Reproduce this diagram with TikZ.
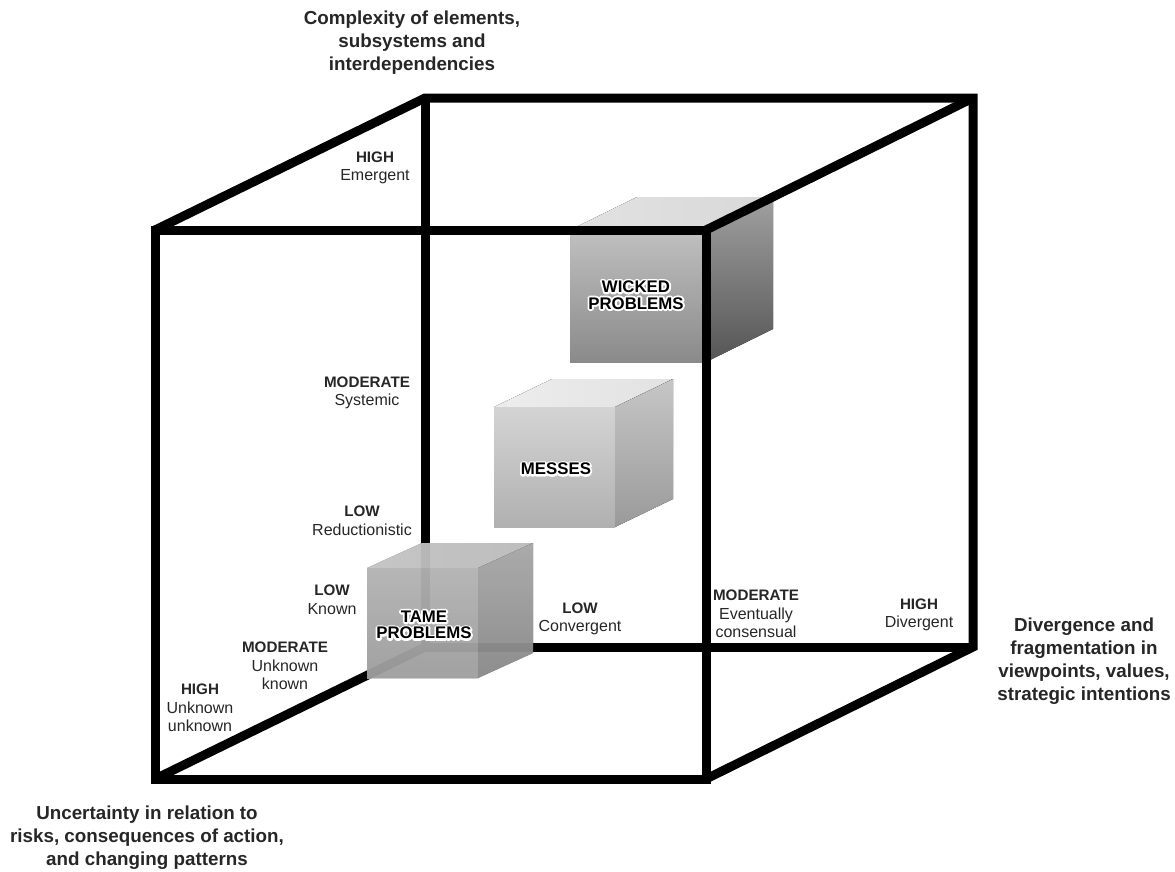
\documentclass[tikz,border=0pt]{standalone}
\usepackage{fontspec}
\setmainfont{Liberation Sans}
\newcommand\halo[1]{\leavevmode\rlap{\special{pdf:literal direct 1 Tr 3.8 w 1 j 1 1 1 RG}#1\special{pdf:literal direct 0 Tr 0 G}}#1}
\definecolor{wTop}{HTML}{E2E2E2}
\definecolor{wTopR}{HTML}{D8D8D8}
\definecolor{wFrT}{HTML}{C0C0C0}
\definecolor{wFrB}{HTML}{8A8A8A}
\definecolor{wRtT}{HTML}{A0A0A0}
\definecolor{wRtB}{HTML}{555555}
\definecolor{mTop}{HTML}{EDEDED}
\definecolor{mTopR}{HTML}{E2E2E2}
\definecolor{mFrT}{HTML}{D4D4D4}
\definecolor{mFrB}{HTML}{B0B0B0}
\definecolor{mRtT}{HTML}{C6C6C6}
\definecolor{mRtB}{HTML}{9A9A9A}
\definecolor{tTop}{HTML}{EEEEEE}
\definecolor{tTopR}{HTML}{E4E4E4}
\definecolor{tFrT}{HTML}{DADADA}
\definecolor{tFrB}{HTML}{C0C0C0}
\definecolor{tRtT}{HTML}{CCCCCC}
\definecolor{tRtB}{HTML}{A6A6A6}
\begin{document}
\begin{tikzpicture}[x=1pt,y=-1pt,
  edge/.style={line width=9pt,black,line cap=butt,line join=miter,miter limit=3},
  lvl/.style={align=center,inner sep=0pt,text=black!85,font=\fontsize{16}{18.5}\selectfont},
  ttl/.style={align=center,inner sep=0pt,text=black!85,font=\fontsize{18.8}{23}\selectfont\bfseries},
  cubelbl/.style={align=center,inner sep=0pt,font=\fontsize{16.8}{16.5}\selectfont\bfseries}]
\useasboundingbox (0,0) rectangle (1175,871);
% big cube corners
\coordinate (A) at (155,779);
\coordinate (B) at (706,779);
\coordinate (C) at (706,230);
\coordinate (D) at (155,230);
\coordinate (E) at (425,647);
\coordinate (F) at (973,647);
\coordinate (G) at (973,98);
\coordinate (H) at (425,98);
% hidden edges
\draw[edge] (H) -- (E) -- (F);
\draw[edge] (A) -- (E);
% messes cube
\fill[left color=mTop,right color=mTopR] (494,407) -- (552,379) -- (673,379) -- (615,407) -- cycle;
\fill[top color=mFrT,bottom color=mFrB] (494,407) rectangle (615,527);
\fill[top color=mRtT,bottom color=mRtB] (615,407) -- (673,379) -- (673,499) -- (615,527) -- cycle;
% tame cube (translucent)
\begin{scope}[fill opacity=0.78]
\fill[left color=tTop,right color=tTopR] (367,568) -- (422,543) -- (533,543) -- (478,568) -- cycle;
\fill[top color=tFrT,bottom color=tFrB] (367,568) rectangle (478,678);
\fill[top color=tRtT,bottom color=tRtB] (478,568) -- (533,543) -- (533,653) -- (478,678) -- cycle;
\end{scope}
% wicked cube
\fill[left color=wTop,right color=wTopR] (570,230) -- (637,197) -- (773,197) -- (706,230) -- cycle;
\fill[top color=wFrT,bottom color=wFrB] (570,230) rectangle (706,362);
\fill[top color=wRtT,bottom color=wRtB] (706,230) -- (773,197) -- (773,329) -- (706,362) -- cycle;
% visible edges
\draw[edge] (A) -- (B) -- (C) -- (D) -- cycle;
\draw[edge] (D) -- (H) -- (G) -- (F) -- (B);
\draw[edge] (G) -- (C);
% cube labels
\node[cubelbl] (wicked) at (636,295) {\halo{WICKED}\\\halo{PROBLEMS}};
\node[cubelbl] (messes) at (556,469) {\halo{MESSES}};
\node[cubelbl] (tame) at (424,625) {\halo{TAME}\\\halo{PROBLEMS}};
% level labels
\node[lvl] (c3) at (375,168) {{\bfseries\fontsize{15.2}{18.5}\selectfont HIGH}\\Emergent};
\node[lvl] (c2) at (367,393) {{\bfseries\fontsize{15.2}{18.5}\selectfont MODERATE}\\Systemic};
\node[lvl] (c1) at (362,521) {{\bfseries\fontsize{15.2}{18.5}\selectfont LOW}\\Reductionistic};
\node[lvl] (u1) at (332,600) {{\bfseries\fontsize{15.2}{18.5}\selectfont LOW}\\Known};
\node[lvl] (u2) at (285,666) {{\bfseries\fontsize{15.2}{18.5}\selectfont MODERATE}\\Unknown\\known};
\node[lvl] (u3) at (200,708) {{\bfseries\fontsize{15.2}{18.5}\selectfont HIGH}\\Unknown\\unknown};
\node[lvl] (d1) at (580,619) {{\bfseries\fontsize{15.2}{18.5}\selectfont LOW}\\Convergent};
\node[lvl] (d2) at (756,614) {{\bfseries\fontsize{15.2}{18.5}\selectfont MODERATE}\\Eventually\\consensual};
\node[lvl] (d3) at (919,615) {{\bfseries\fontsize{15.2}{18.5}\selectfont HIGH}\\Divergent};
% axis titles
\node[ttl] (tc) at (412,43) {Complexity of elements,\\subsystems and\\interdependencies};
\node[ttl] (tu) at (147,838) {Uncertainty in relation to\\risks, consequences of action,\\and changing patterns};
\node[ttl] (td) at (1084,661) {Divergence and\\fragmentation in\\viewpoints, values,\\strategic intentions};
\end{tikzpicture}
\end{document}
